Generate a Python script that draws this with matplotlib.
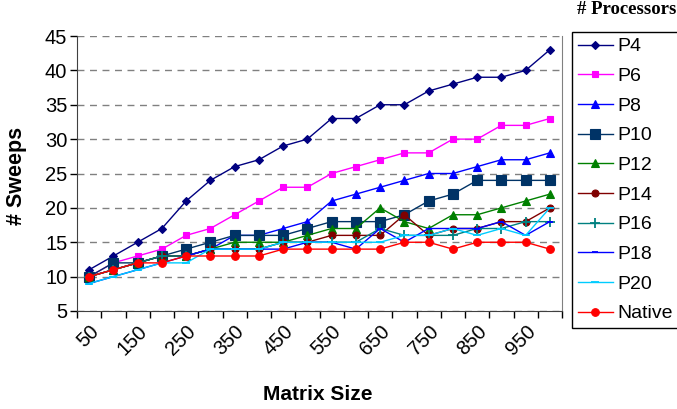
import numpy as np
import matplotlib
matplotlib.use("Agg")
import matplotlib.pyplot as plt
from matplotlib.ticker import FixedLocator

# Matrix sizes (categories)
sizes = [50, 100, 150, 200, 250, 300, 350, 400, 450, 500,
         550, 600, 650, 700, 750, 800, 850, 900, 950, 1000]

# Number of sweeps per configuration
p4 = [11, 13, 15, 17, 21, 24, 26, 27, 29, 30, 33, 33, 35, 35, 37, 38, 39, 39, 40, 43]
p6 = [10, 12, 13, 14, 16, 17, 19, 21, 23, 23, 25, 26, 27, 28, 28, 30, 30, 32, 32, 33]
p8 = [10, 11, 12, 13, 13, 14, 16, 16, 17, 18, 21, 22, 23, 24, 25, 25, 26, 27, 27, 28]
p10 = [10, 12, 12, 13, 14, 15, 16, 16, 16, 17, 18, 18, 18, 19, 21, 22, 24, 24, 24, 24]
p12 = [10, 11, 12, 13, 13, 14, 15, 15, 15, 16, 17, 17, 20, 18, 17, 19, 19, 20, 21, 22]
p14 = [10, 11, 12, 13, 13, 14, 14, 14, 15, 15, 16, 16, 16, 19, 16, 17, 17, 18, 18, 20]
p16 = [10, 11, 12, 13, 13, 14, 14, 14, 15, 15, 15, 15, 17, 16, 16, 16, 17, 17, 18, 18]
p18 = [9, 10, 11, 12, 13, 14, 14, 14, 14, 15, 15, 14, 17, 15, 17, 17, 17, 18, 16, 18]
p20 = [9, 10, 11, 12, 12, 14, 14, 14, 15, 15, 15, 15, 15, 16, 16, 17, 16, 17, 16, 20]
native = [10, 11, 12, 12, 13, 13, 13, 13, 14, 14, 14, 14, 14, 15, 15, 14, 15, 15, 15, 14]

series = [
    ("P4", p4, "#000080", "D", 4),
    ("P6", p6, "#FF00FF", "s", 5),
    ("P8", p8, "#0000FF", "^", 6),
    ("P10", p10, "#003366", "s", 7.5),
    ("P12", p12, "#008000", "^", 6),
    ("P14", p14, "#800000", "o", 5),
    ("P16", p16, "#008080", "+", 7),
    ("P18", p18, "#0000FF", "_", 5),
    ("P20", p20, "#00CCFF", "_", 6),
    ("Native", native, "#FF0000", "o", 5.5),
]

plt.rcParams["font.family"] = ["Liberation Sans", "DejaVu Sans"]

fig = plt.figure(figsize=(6.77, 4.09), dpi=100)
ax = fig.add_axes([77 / 677, 1 - 311 / 409, (562 - 77) / 677, (311 - 36) / 409])

x = np.arange(len(sizes))
handles = []
for name, vals, color, marker, ms in series:
    mew = 1.3 if marker in ("+", "_") else 0.8
    h, = ax.plot(x, vals, color=color, lw=1.0, marker=marker, markersize=ms,
                 markerfacecolor=color, markeredgecolor=color,
                 markeredgewidth=mew, label=name)
    handles.append(h)

ax.set_xlim(-0.5, len(sizes) - 0.5)
ax.set_ylim(5, 45)
ax.set_yticks(np.arange(5, 46, 5))
ax.tick_params(axis="y", labelsize=14.5, length=5, width=1, direction="out", pad=2)
ax.yaxis.grid(True, linestyle=(0, (5, 4)), color="#808080", lw=1)
ax.set_axisbelow(True)

# tick marks between categories, labels on every other category
ax.xaxis.set_major_locator(FixedLocator(np.arange(-0.5, len(sizes), 1)))
ax.set_xticklabels([])
ax.tick_params(axis="x", which="major", length=5, width=1, direction="out")
label_pos = x[::2]
ax.xaxis.set_minor_locator(FixedLocator(label_pos))
ax.set_xticks(label_pos, [str(s) for s in sizes[::2]], minor=True)
ax.tick_params(axis="x", which="minor", length=0, labelsize=14.5, pad=8)
for lbl in ax.get_xticklabels(minor=True):
    lbl.set_rotation(45)
    lbl.set_ha("right")
    lbl.set_va("top")
    lbl.set_rotation_mode("anchor")

ax.spines["top"].set_visible(False)
ax.spines["right"].set_color("#808080")
ax.spines["left"].set_color("#404040")
ax.spines["bottom"].set_color("#404040")

fig.text(17 / 677, 1 - 176 / 409, "# Sweeps", rotation=90, fontsize=15.5,
         fontweight="bold", ha="center", va="center")
fig.text(318 / 677, 1 - 395 / 409, "Matrix Size", fontsize=15,
         fontweight="bold", ha="center", va="center")
fig.text(676 / 677, 1 - 10 / 409, "# Processors", fontsize=13.5,
         fontweight="bold", ha="right", va="center",
         family=["Liberation Serif", "DejaVu Serif"])

leg = fig.legend(handles=handles, loc="upper left",
                 bbox_to_anchor=(572 / 677, 1 - 32 / 409),
                 fontsize=14, frameon=True, fancybox=False,
                 edgecolor="black", framealpha=1, borderpad=0.3,
                 labelspacing=0.62, handlelength=1.8, handletextpad=0.25,
                 borderaxespad=0)
leg.get_frame().set_linewidth(1.0)

fig.savefig("out.png", dpi=100)
